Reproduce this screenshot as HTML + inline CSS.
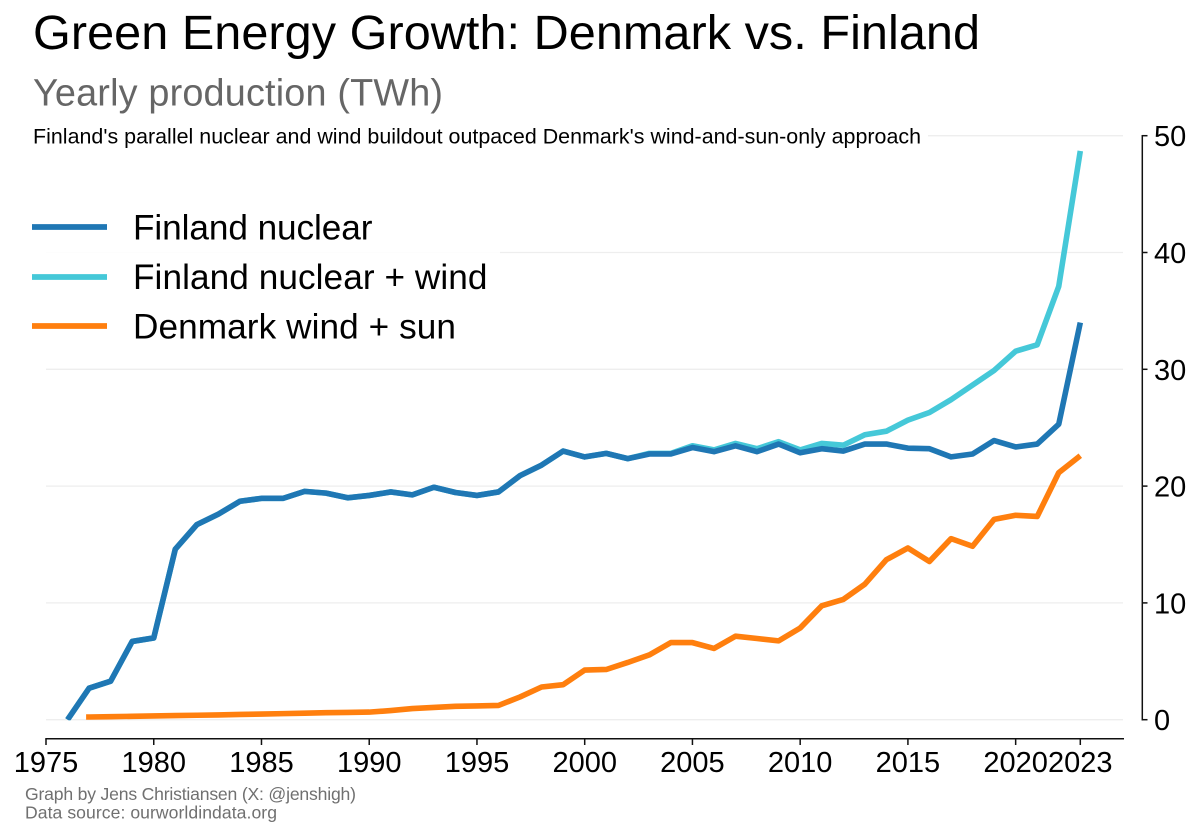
<!DOCTYPE html>
<html lang="en">
<head>
<meta charset="utf-8">
<title>Green Energy Growth: Denmark vs. Finland</title>
<style>
html,body{margin:0;padding:0;background:#fff;}
svg{display:block;font-family:"Liberation Sans",Arial,sans-serif;}
</style>
</head>
<body>
<svg id="chart" xmlns="http://www.w3.org/2000/svg" width="1200" height="835" viewBox="0 0 1200 835">
  <rect x="0" y="0" width="1200" height="835" fill="#ffffff"/>
  <g id="grid"></g>
  <g id="series"></g>
  <g id="x-axis"></g>
  <g id="y-axis"></g>

  <rect x="28" y="124" width="900" height="26" fill="#ffffff"/>
  <text x="33" y="49" font-size="48.6" fill="#000000" textLength="947" lengthAdjust="spacing">Green Energy Growth: Denmark vs. Finland</text>
  <text x="33" y="105.5" font-size="37.8" fill="#666666" textLength="410" lengthAdjust="spacing">Yearly production (TWh)</text>
  <text x="33" y="143.5" font-size="21.4" fill="#000000" textLength="888" lengthAdjust="spacing">Finland's parallel nuclear and wind buildout outpaced Denmark's wind-and-sun-only approach</text>

  <g>
    <rect x="28" y="200" width="472" height="150" fill="#ffffff" fill-opacity="0.85"/>
    <g>
      <line x1="32" y1="227" x2="107" y2="227" stroke="#1f77b4" stroke-width="5.8"/>
      <text x="133" y="239.5" font-size="35.2" fill="#000000" textLength="239.5" lengthAdjust="spacing">Finland nuclear</text>
    </g>
    <g>
      <line x1="32" y1="277" x2="107" y2="277" stroke="#45c8d8" stroke-width="5.8"/>
      <text x="133" y="289" font-size="35.2" fill="#000000" textLength="354.5" lengthAdjust="spacing">Finland nuclear + wind</text>
    </g>
    <g>
      <line x1="32" y1="326" x2="107" y2="326" stroke="#ff7f0e" stroke-width="5.8"/>
      <text x="133" y="338.5" font-size="35.2" fill="#000000" textLength="323" lengthAdjust="spacing">Denmark wind + sun</text>
    </g>
  </g>

  <text x="25" y="800" font-size="17.6" fill="#707070" textLength="331" lengthAdjust="spacing">Graph by Jens Christiansen (X: @jenshigh)</text>
  <text x="25" y="818.5" font-size="17.6" fill="#707070" textLength="252" lengthAdjust="spacing">Data source: ourworldindata.org</text>
</svg>
<script>
const xTickLabels = [1975, 1980, 1985, 1990, 1995, 2000, 2005, 2010, 2015, 2020, 2023];
const yTickLabels = [0, 10, 20, 30, 40, 50];

const nuclearStartYear = 1976;
const finlandNuclear = [0, 2.7, 3.3, 6.7, 7.0, 14.6, 16.7, 17.6, 18.7, 18.95, 18.95, 19.55, 19.4, 19.0, 19.2, 19.5, 19.25, 19.9, 19.45, 19.2, 19.5, 20.9, 21.8, 23.0, 22.5, 22.8, 22.35, 22.75, 22.75, 23.3, 22.95, 23.45, 22.95, 23.6, 22.85, 23.2, 23.0, 23.6, 23.6, 23.25, 23.2, 22.5, 22.75, 23.9, 23.35, 23.6, 25.3, 34.0];

const nuclearWindStartYear = 1976;
const finlandNuclearWind = [0, 2.7, 3.3, 6.7, 7.0, 14.6, 16.7, 17.6, 18.7, 18.95, 18.95, 19.55, 19.4, 19.0, 19.2, 19.5, 19.25, 19.9, 19.45, 19.2, 19.5, 20.9, 21.8, 23.0, 22.5, 22.8, 22.35, 22.8, 22.8, 23.45, 23.1, 23.65, 23.2, 23.8, 23.1, 23.65, 23.5, 24.4, 24.7, 25.65, 26.3, 27.4, 28.65, 29.9, 31.55, 32.1, 37.1, 48.7];

const denmarkStartYear = 1977;
const denmarkWindSun = [0.23, 0.26, 0.29, 0.32, 0.35, 0.38, 0.41, 0.45, 0.48, 0.52, 0.56, 0.6, 0.62, 0.65, 0.78, 0.95, 1.05, 1.15, 1.18, 1.22, 1.95, 2.8, 3.0, 4.25, 4.3, 4.9, 5.55, 6.6, 6.6, 6.1, 7.15, 6.95, 6.75, 7.85, 9.75, 10.3, 11.6, 13.7, 14.7, 13.55, 15.5, 14.85, 17.15, 17.5, 17.4, 21.15, 22.6];

const NS = 'http://www.w3.org/2000/svg';
function xScale(year) { return 46 + (year - 1975) * (1080.3 - 46) / 48; }
function yScale(value) { return 719.7 - value * (719.7 - 135.7) / 50; }

function make(parent, tag, attrs, text) {
  const el = document.createElementNS(NS, tag);
  for (const k in attrs) el.setAttribute(k, attrs[k]);
  if (text !== undefined) el.textContent = text;
  parent.appendChild(el);
  return el;
}

const svg = document.getElementById('chart');
const gridG = document.getElementById('grid');
const seriesG = document.getElementById('series');
const xG = document.getElementById('x-axis');
const yG = document.getElementById('y-axis');

yTickLabels.forEach(function (v) {
  const y = yScale(v);
  const grid = make(gridG, 'line', { x1: 46, x2: 1123, y1: y, y2: y, stroke: '#eeeeee', 'stroke-width': 1.3 });
  
  
  const tick = make(yG, 'line', { x1: 1142, x2: 1147.5, y1: y, y2: y, stroke: '#111111', 'stroke-width': 1.5 });
  
  
  const label = make(yG, 'text', { x: 1154, y: y + 10.5, 'font-size': 29, fill: '#000000' }, String(v));
  
  
});
const yLine = make(yG, 'line', { x1: 1142.3, x2: 1142.3, y1: yScale(50) - 0.75, y2: yScale(0) + 0.75, stroke: '#111111', 'stroke-width': 1.5 });



const xLine = make(xG, 'line', { x1: 45.3, x2: 1124, y1: 738.7, y2: 738.7, stroke: '#111111', 'stroke-width': 1.5 });


xTickLabels.forEach(function (yr) {
  const x = xScale(yr);
  const tick = make(xG, 'line', { x1: x, x2: x, y1: 738.7, y2: 745, stroke: '#111111', 'stroke-width': 1.5 });
  
  
  const label = make(xG, 'text', { x: x, y: 772, 'font-size': 29, fill: '#000000', 'text-anchor': 'middle' }, String(yr));
  
  
});

const defs = make(svg, 'defs', {});
const clip = make(defs, 'clipPath', { id: 'plot-clip' });
make(clip, 'rect', { x: 0, y: 0, width: 1200, height: yScale(0) + 0.5 });

function drawSeries(values, startYear, color, name, leadPx) {
  const coords = values.map(function (v, i) {
    return [xScale(startYear + i), yScale(v)];
  });
  if (leadPx) coords.unshift([coords[0][0] - leadPx, coords[0][1]]);
  const pts = coords.map(function (c) {
    return c[0].toFixed(2) + ',' + c[1].toFixed(2);
  }).join(' ');
  const line = make(seriesG, 'polyline', {
    points: pts, fill: 'none', stroke: color, 'stroke-width': 5.6,
    'stroke-linejoin': 'round', 'stroke-linecap': 'butt', 'clip-path': 'url(#plot-clip)'
  });
  
  
}

drawSeries(finlandNuclearWind, nuclearWindStartYear, '#45c8d8', 'line-finland-nuclear-wind', 0);
drawSeries(finlandNuclear, nuclearStartYear, '#1f77b4', 'line-finland-nuclear', 0);
drawSeries(denmarkWindSun, denmarkStartYear, '#ff7f0e', 'line-denmark-wind-sun', 3);
</script>
</body>
</html>
